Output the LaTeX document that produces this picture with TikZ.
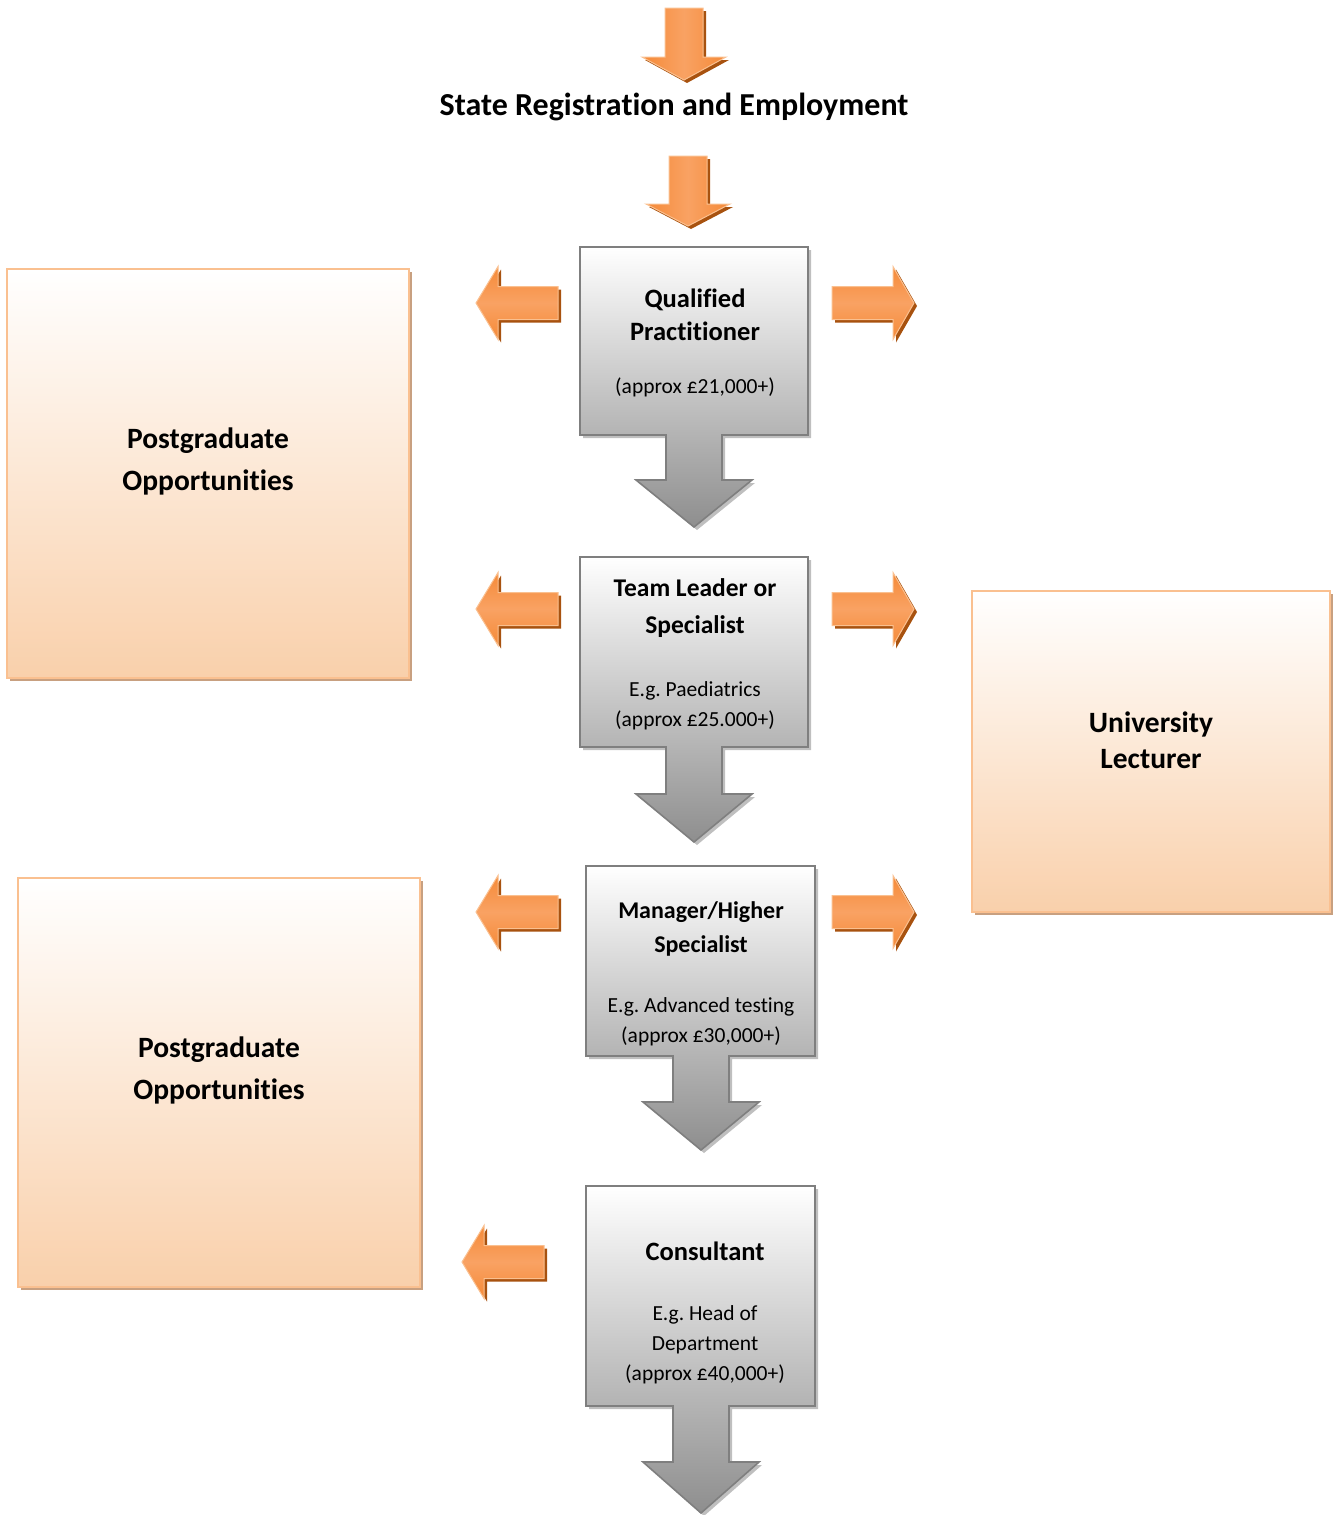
\documentclass[tikz,border=0pt]{standalone}
\usepackage{fontspec}
\setmainfont[Ligatures={NoCommon}]{Carlito}
\frenchspacing
\definecolor{orA}{HTML}{F58A38}
\definecolor{orL}{HTML}{F9A263}
\definecolor{orD}{HTML}{A8520F}
\definecolor{orEdge}{HTML}{FAC090}
\definecolor{peach}{HTML}{F9D0AB}
\definecolor{pshadow}{HTML}{C8A080}
\definecolor{gEdge}{HTML}{7F7F7F}
\definecolor{gBot}{HTML}{8E8E8E}
\tikzset{
  bigtitle/.style={font=\fontsize{32}{38}\selectfont\bfseries, inner sep=0pt},
  boxtitle/.style={font=\fontsize{26.5}{33}\selectfont\bfseries, align=center, inner sep=0pt},
  boxsmall/.style={font=\fontsize{21.5}{30}\selectfont, align=center, inner sep=0pt},
  pgtitle/.style={font=\fontsize{29.5}{42}\selectfont\bfseries, align=center, inner sep=0pt},
  orarrow/.style={left color=orA, right color=orA, middle color=orL, draw=orEdge, line width=1pt},
  orarrowv/.style={top color=orA, bottom color=orA, middle color=orL, draw=orEdge, line width=1pt},
  orshadow/.style={fill=orD},
  callfill/.style={top color=white, bottom color=gBot, draw=gEdge, line width=1.6pt},
  callshadow/.style={fill=black!25},
  oboxfill/.style={top color=white, bottom color=peach, draw=orEdge, line width=2pt},
  oboxshadow/.style={fill=pshadow}
}
% callout: #1 cx, #2 xl, #3 xr, #4 ytop, #5 ybot, #6 yhead, #7 ytip
\newcommand\callout[7]{%
  \fill[callshadow,xshift=3pt,yshift=-3pt] (#2,#4) -- (#3,#4) -- (#3,#5) -- ({#1+28},#5) -- ({#1+28},#6) -- ({#1+58},#6) -- (#1,#7) -- ({#1-58},#6) -- ({#1-28},#6) -- ({#1-28},#5) -- (#2,#5) -- cycle;
  \shade[callfill] (#2,#4) -- (#3,#4) -- (#3,#5) -- ({#1+28},#5) -- ({#1+28},#6) -- ({#1+58},#6) -- (#1,#7) -- ({#1-58},#6) -- ({#1-28},#6) -- ({#1-28},#5) -- (#2,#5) -- cycle;}
% left arrow: #1 tip x, #2 center y
\newcommand\larrow[2]{%
  \fill[orshadow,xshift=3pt,yshift=-3pt] (#1,#2) -- ({#1+22},{#2-36.5}) -- ({#1+22},{#2-16.5}) -- ({#1+82},{#2-16.5}) -- ({#1+82},{#2+16.5}) -- ({#1+22},{#2+16.5}) -- ({#1+22},{#2+36.5}) -- cycle;
  \shade[orarrowv] (#1,#2) -- ({#1+22},{#2-36.5}) -- ({#1+22},{#2-16.5}) -- ({#1+82},{#2-16.5}) -- ({#1+82},{#2+16.5}) -- ({#1+22},{#2+16.5}) -- ({#1+22},{#2+36.5}) -- cycle;}
% right arrow: #1 tip x, #2 center y
\newcommand\rarrow[2]{%
  \fill[orshadow,xshift=3pt,yshift=-3pt] (#1,#2) -- ({#1-21},{#2-36.5}) -- ({#1-21},{#2-16.5}) -- ({#1-82},{#2-16.5}) -- ({#1-82},{#2+16.5}) -- ({#1-21},{#2+16.5}) -- ({#1-21},{#2+36.5}) -- cycle;
  \shade[orarrowv] (#1,#2) -- ({#1-21},{#2-36.5}) -- ({#1-21},{#2-16.5}) -- ({#1-82},{#2-16.5}) -- ({#1-82},{#2+16.5}) -- ({#1-21},{#2+16.5}) -- ({#1-21},{#2+36.5}) -- cycle;}
% down arrow: #1 cx, #2 ytop, #3 yhead, #4 ytip
\newcommand\darrow[4]{%
  \fill[orshadow,xshift=3pt,yshift=-3pt] ({#1-19},#2) -- ({#1+19},#2) -- ({#1+19},#3) -- ({#1+42},#3) -- (#1,#4) -- ({#1-42},#3) -- ({#1-19},#3) -- cycle;
  \shade[orarrow] ({#1-19},#2) -- ({#1+19},#2) -- ({#1+19},#3) -- ({#1+42},#3) -- (#1,#4) -- ({#1-42},#3) -- ({#1-19},#3) -- cycle;}
% orange box: #1 x1 #2 y1 #3 x2 #4 y2
\newcommand\obox[4]{%
  \fill[oboxshadow,xshift=3pt,yshift=-3pt] (#1,#2) rectangle (#3,#4);
  \shade[oboxfill] (#1,#2) rectangle (#3,#4);}
\begin{document}
\begin{tikzpicture}[x=1pt,y=-1pt]
\useasboundingbox (0,0) rectangle (1333,1515);
% top arrows and title
\darrow{684}{8}{57}{80}
\node[bigtitle] (title) at (674,107) {State Registration and Employment};
\darrow{688}{156}{204}{226}
% orange boxes
\obox{7}{269}{409}{678}
\node[pgtitle] (pg1) at (208,461) {Postgraduate\\Opportunities};
\obox{972}{591}{1330}{912}
\node[pgtitle, font=\fontsize{29.5}{36}\selectfont\bfseries] (ul) at (1151,740) {University\\Lecturer};
\obox{18}{878}{420}{1287}
\node[pgtitle] (pg2) at (219,1070) {Postgraduate\\Opportunities};
% callouts
\callout{694}{580}{808}{247}{435}{480}{527}
\node[boxtitle] (q1) at (695,315) {Qualified\\Practitioner};
\node[boxsmall] (q2) at (695,387) {(approx £21,000+)};
\callout{694}{580}{808}{557}{747}{794}{842}
\node[boxtitle, font=\fontsize{25.5}{37}\selectfont\bfseries] (t1) at (695,608) {Team Leader or\\Specialist};
\node[boxsmall] (t2) at (695,706) {E.g. Paediatrics\\(approx £25.000+)};
\callout{701}{586}{815}{866}{1056}{1102}{1150}
\node[boxtitle, font=\fontsize{24}{34}\selectfont\bfseries] (m1) at (701,929) {Manager/Higher\\Specialist};
\node[boxsmall] (m2) at (701,1022) {E.g. Advanced testing\\(approx £30,000+)};
\callout{701}{586}{815}{1186}{1406}{1462}{1513}
\node[boxtitle] (c1) at (705,1251) {Consultant};
\node[boxsmall] (c2) at (705,1345) {E.g. Head of\\Department\\(approx £40,000+)};
% side arrows
\larrow{476}{303}
\rarrow{914}{303}
\larrow{476}{609}
\rarrow{914}{609}
\larrow{476}{912}
\rarrow{914}{912}
\larrow{462}{1262}
\end{tikzpicture}
\end{document}
